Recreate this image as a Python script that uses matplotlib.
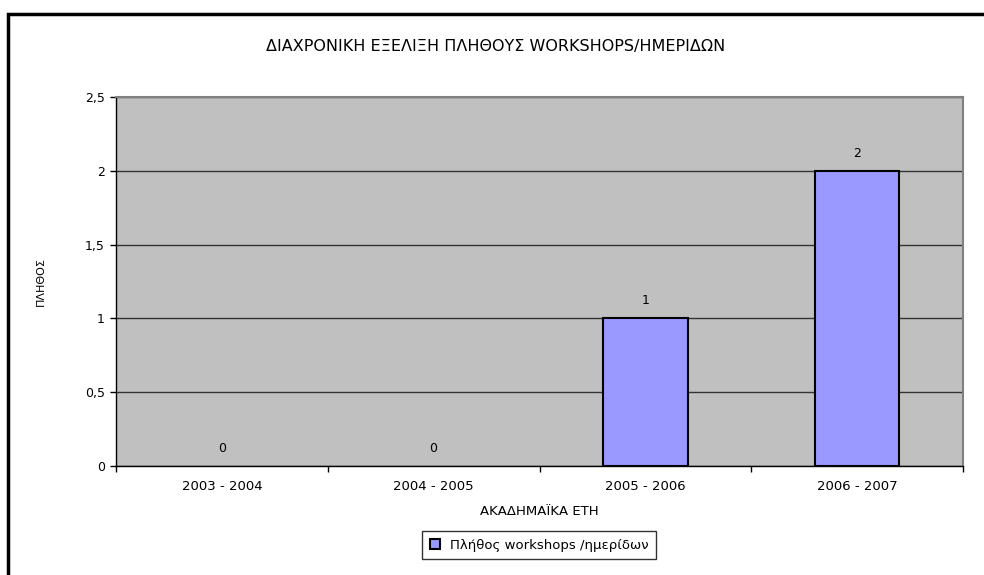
import matplotlib
matplotlib.use("Agg")
import matplotlib.pyplot as plt
from matplotlib.patches import Rectangle

plt.rcParams['font.family'] = ['DejaVu Sans']

categories = ["2003 - 2004", "2004 - 2005", "2005 - 2006", "2006 - 2007"]
values = [0, 0, 1, 2]
series_name = "Πλήθος workshops /ημερίδων"
title = "ΔΙΑΧΡΟΝΙΚΗ ΕΞΕΛΙΞΗ ΠΛΗΘΟΥΣ WORKSHOPS/ΗΜΕΡΙΔΩΝ"
xlabel = "ΑΚΑΔΗΜΑΪΚΑ ΕΤΗ"
ylabel = "ΠΛΗΘΟΣ"
yticks = [0, 0.5, 1, 1.5, 2, 2.5]
ytick_labels = ["0", "0,5", "1", "1,5", "2", "2,5"]

fig = plt.figure(figsize=(9.84, 5.75), dpi=100)
fig.patch.set_facecolor("white")

# outer chart border (only top/left visible in the crop)
fig.patches.append(Rectangle((8/984, -0.1), 1.2, 1 - 14/575 + 0.1,
                             transform=fig.transFigure, fill=False,
                             edgecolor="black", linewidth=2.5, zorder=0))

ax = fig.add_axes([116/984, 1 - 466/575, (963 - 116)/984, (466 - 97)/575])
ax.set_facecolor("#C0C0C0")

x = list(range(len(categories)))
bars = ax.bar(x, values, width=0.4, color="#9999FF", edgecolor="black",
              linewidth=1.5, zorder=3, label=series_name)

leg = ax.legend(loc="center", bbox_to_anchor=(539/984, 1 - 545/575),
                bbox_transform=fig.transFigure, fontsize=9.5, frameon=True,
                fancybox=False, edgecolor="black", handlelength=0.8,
                handleheight=0.8, borderpad=0.6, handletextpad=0.7,
                borderaxespad=0)
leg.get_frame().set_linewidth(1)

for b, v in zip(bars, values):
    if v == 0:
        b.set_linewidth(0)

for xi, v in zip(x, values):
    ax.annotate(str(v), (xi, v), xytext=(0, 8), textcoords="offset points",
                ha="center", va="bottom", fontsize=9, color="black")

ax.set_xlim(-0.5, len(categories) - 0.5)
ax.set_ylim(0, 2.5)
ax.set_yticks(yticks)
ax.set_yticklabels(ytick_labels, fontsize=9)
ax.yaxis.grid(True, color="#333333", linewidth=1, zorder=1)
ax.set_axisbelow(True)

ax.set_xticks(x)
ax.set_xticklabels(categories, fontsize=9.5)
ax.tick_params(axis="x", which="major", length=0, pad=10)
ax.set_xticks([i + 0.5 for i in x[:-1]] + [-0.5, len(categories) - 0.5], minor=True)
ax.tick_params(axis="x", which="minor", length=4, width=1, color="black")
ax.tick_params(axis="y", length=4, width=1, color="black", pad=4)

for side in ["top", "right"]:
    ax.spines[side].set_color("#808080")
    ax.spines[side].set_linewidth(1.5)
for side in ["left", "bottom"]:
    ax.spines[side].set_color("black")
    ax.spines[side].set_linewidth(1)

ax.set_xlabel(xlabel, fontsize=9.5, labelpad=9)
ax.set_ylabel(ylabel, fontsize=8, labelpad=28)

fig.text(496/984, 1 - 47/575, title, ha="center", va="center", fontsize=11.5)

fig.savefig("out.png", dpi=100, facecolor="white")
